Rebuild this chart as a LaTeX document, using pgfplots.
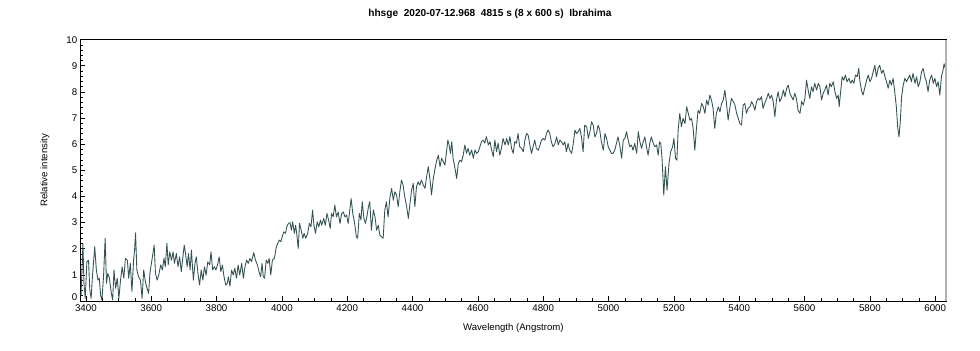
\documentclass[border=0pt]{standalone}
\usepackage{fontspec}
\setmainfont{Liberation Sans}
\usepackage{pgfplots}
\usepackage{pgfplotstable}
\pgfplotsset{compat=1.18}
\definecolor{spec}{RGB}{52,82,82}
\pgfplotstableread{
lam v
3385 0.20
3391 2.20
3394 0.68
3398 0.10
3403 1.50
3408 1.56
3412 0.42
3416 0.10
3420 0.93
3427 2.08
3432 1.19
3437 0.80
3441 0.87
3445 0.23
3449 0.04
3454 0.93
3459 2.40
3463 0.68
3467 1.06
3472 0.87
3478 0.29
3482 0.04
3486 1.19
3491 0.49
3496 0.87
3501 0.10
3506 0.80
3511 1.31
3516 0.87
3521 1.63
3527 1.56
3531 0.87
3536 1.44
3541 0.36
3546 1.56
3549 1.95
3552 2.61
3556 1.19
3561 0.93
3567 0.80
3572 0.10
3577 1.19
3582 0.74
3587 0.49
3592 0.29
3596 1.06
3602 1.56
3606 1.88
3609 2.14
3613 1.06
3618 0.80
3623 0.99
3629 1.38
3634 1.19
3639 1.63
3643 1.31
3648 2.21
3652 1.38
3657 1.88
3662 1.56
3667 1.88
3671 1.44
3677 1.82
3682 1.31
3687 1.69
3692 1.12
3697 1.69
3701 2.14
3705 1.82
3710 1.31
3714 1.82
3719 1.19
3723 1.95
3729 0.80
3734 1.44
3738 1.69
3743 1.06
3748 0.61
3753 1.19
3758 0.80
3763 1.31
3768 0.99
3773 1.50
3779 1.38
3783 1.88
3788 1.19
3793 1.31
3798 1.19
3803 1.38
3808 1.69
3813 1.12
3818 1.38
3822 0.99
3828 0.61
3833 0.68
3836 0.93
3841 0.57
3846 1.18
3851 1.00
3856 1.25
3861 0.87
3866 1.38
3871 1.00
3877 1.44
3882 0.87
3887 1.31
3892 1.57
3897 1.44
3902 1.63
3907 1.51
3914 1.85
3919 1.57
3925 1.38
3930 1.12
3935 0.93
3939 1.44
3943 0.93
3947 0.87
3952 1.57
3957 1.44
3961 1.63
3966 1.00
3971 1.57
3977 1.63
3982 2.01
3987 2.20
3992 2.33
3997 2.27
4001 2.46
4006 2.65
4011 2.59
4015 2.84
4020 2.97
4025 3.00
4029 2.71
4033 3.03
4038 2.59
4042 2.90
4046 2.52
4050 2.01
4054 2.97
4059 2.71
4064 2.40
4068 2.59
4073 2.40
4079 2.59
4084 2.97
4089 2.84
4094 3.48
4098 2.90
4103 2.59
4108 3.03
4113 2.84
4118 3.10
4122 2.90
4128 3.16
4133 2.90
4138 3.35
4143 3.10
4148 2.78
4152 3.35
4157 3.22
4162 3.67
4167 3.22
4172 3.41
4178 2.97
4183 3.35
4188 3.41
4193 3.22
4198 3.29
4203 2.97
4208 3.48
4212 3.92
4217 3.35
4222 3.03
4228 2.46
4232 2.40
4237 3.35
4242 3.10
4246 3.80
4251 3.16
4256 2.97
4261 3.29
4265 3.61
4269 3.80
4274 2.71
4280 3.48
4285 3.22
4290 2.71
4295 2.90
4300 2.52
4305 2.46
4310 2.40
4315 3.48
4320 3.80
4325 3.22
4331 3.99
4336 4.31
4341 3.86
4346 4.18
4351 4.06
4356 3.61
4361 4.18
4366 4.63
4371 4.43
4376 3.99
4382 3.61
4387 3.16
4392 3.73
4397 4.24
4402 4.50
4407 3.61
4412 4.37
4417 4.56
4422 4.43
4427 4.63
4433 4.43
4438 4.31
4443 4.75
4448 5.14
4453 4.69
4458 4.06
4463 4.63
4468 5.01
4473 5.33
4479 5.58
4484 5.14
4489 5.46
4494 5.33
4499 5.20
4504 5.71
4508 6.16
4512 5.97
4516 5.65
4520 6.10
4524 5.46
4530 5.07
4535 4.69
4540 5.26
4545 5.39
4550 5.33
4555 5.58
4560 5.97
4565 5.65
4570 5.84
4575 5.58
4581 5.78
4586 5.46
4591 5.78
4596 5.65
4601 5.71
4606 5.90
4611 6.10
4616 6.16
4621 6.04
4626 6.29
4632 5.97
4637 6.10
4642 5.78
4647 5.52
4652 6.16
4657 5.71
4662 6.04
4667 5.58
4672 5.84
4677 6.22
4683 5.97
4688 6.22
4693 5.97
4698 6.29
4703 5.84
4708 5.65
4713 6.10
4718 6.04
4723 6.41
4728 5.90
4734 5.84
4739 5.71
4744 6.16
4749 6.41
4754 6.34
4759 5.97
4764 5.65
4769 5.90
4774 6.16
4779 5.84
4785 5.77
4790 5.97
4795 6.16
4800 6.22
4805 6.16
4810 6.41
4815 6.54
4820 6.41
4825 6.09
4830 5.90
4836 6.03
4841 6.28
4846 5.97
4851 6.16
4856 6.09
4861 5.97
4866 6.09
4871 5.71
4876 6.03
4881 5.77
4887 5.65
4892 6.03
4897 6.54
4902 6.41
4907 6.48
4912 6.60
4917 6.28
4922 5.71
4927 6.73
4933 6.67
4938 6.22
4943 6.48
4948 6.86
4953 6.73
4958 6.28
4963 6.41
4968 6.73
4973 6.54
4978 6.09
4984 5.77
4989 6.41
4994 6.22
4999 5.90
5004 5.77
5009 5.65
5014 5.65
5019 5.77
5024 6.03
5029 6.28
5035 5.90
5040 5.46
5045 6.16
5050 6.22
5055 6.48
5060 6.16
5065 5.90
5070 5.97
5075 5.77
5080 6.03
5086 5.65
5091 6.48
5096 6.09
5101 5.84
5106 6.09
5111 6.28
5116 5.90
5121 5.58
5126 6.03
5131 6.28
5137 6.03
5142 5.90
5147 5.97
5152 5.58
5156 6.09
5160 6.03
5164 5.39
5169 4.05
5174 5.14
5179 4.24
5185 5.26
5190 5.71
5196 5.90
5200 6.22
5205 5.46
5209 5.39
5213 6.54
5218 7.18
5223 6.67
5228 6.99
5234 6.79
5239 7.43
5244 7.18
5249 6.92
5254 6.99
5259 6.60
5264 5.77
5269 6.60
5274 7.30
5279 7.18
5285 7.56
5290 7.43
5295 7.18
5300 7.69
5305 7.50
5310 7.88
5315 7.69
5320 7.37
5325 6.60
5330 7.18
5336 7.43
5341 7.24
5346 7.56
5351 7.69
5356 8.07
5361 7.56
5366 6.92
5371 7.37
5376 7.75
5382 7.63
5387 7.50
5392 7.18
5397 6.99
5402 6.79
5407 6.73
5412 7.50
5417 7.56
5422 7.18
5427 7.37
5433 7.43
5438 7.63
5443 7.50
5448 7.30
5453 7.63
5458 7.75
5463 7.69
5468 7.82
5473 7.37
5478 7.56
5484 7.75
5489 7.95
5494 7.75
5499 7.88
5504 7.63
5509 7.05
5514 7.69
5519 8.01
5524 7.63
5529 7.75
5535 8.07
5540 7.82
5545 8.14
5550 8.26
5555 7.95
5560 7.82
5565 7.69
5570 7.95
5575 7.75
5580 7.30
5586 7.18
5591 7.63
5596 7.50
5601 7.75
5606 8.45
5611 8.07
5616 7.75
5621 8.20
5626 8.01
5631 8.33
5637 8.07
5642 8.33
5647 8.20
5652 7.69
5657 7.95
5662 8.07
5667 8.26
5672 7.88
5677 8.33
5682 8.20
5688 8.39
5693 8.01
5698 7.75
5703 7.88
5706 7.43
5710 7.95
5715 8.58
5720 8.45
5725 8.65
5730 8.39
5736 8.52
5741 8.33
5746 8.45
5751 8.33
5756 8.65
5761 8.58
5766 8.90
5769 8.45
5774 8.07
5779 7.88
5785 8.20
5790 8.45
5795 8.65
5800 8.39
5805 8.52
5810 8.77
5815 9.02
5820 8.58
5825 8.90
5830 9.02
5836 8.71
5841 8.84
5846 8.58
5851 8.39
5856 8.14
5861 8.45
5866 8.26
5871 8.52
5876 8.01
5881 7.43
5885 6.66
5889 6.28
5893 6.85
5897 7.82
5902 8.26
5907 8.52
5912 8.39
5917 8.52
5922 8.65
5927 8.39
5932 8.71
5938 8.33
5943 8.58
5948 8.20
5953 8.39
5958 8.77
5963 8.90
5968 8.58
5973 8.39
5978 8.01
5983 8.45
5989 8.65
5994 8.33
5999 8.52
6004 8.20
6009 8.39
6014 7.88
6019 8.58
6024 8.84
6027 9.08
6031 8.90
}\spectrum
\begin{document}
\begin{tikzpicture}[x=1pt,y=1pt]
\useasboundingbox (0,0) rectangle (735,262.5);
\begin{axis}[
  at={(60.5pt,36.75pt)}, anchor=south west,
  scale only axis, width=649pt, height=196pt,
  xmin=3384, xmax=6033, ymin=0, ymax=10,
  xtick={3400,3600,...,6000}, ytick={0,1,...,10},
  yticklabels={\raisebox{6pt}{0},1,2,3,4,5,6,7,8,9,10},
  minor x tick num=3, minor y tick num=4,
  tick align=inside, xtick pos=bottom, ytick pos=left,
  major tick length=3.5pt, minor tick length=2pt,
  /pgf/number format/1000 sep={},
  /pgf/number format/assume math mode=true,
  tick label style={font=\fontsize{7.3}{8}\selectfont},
  xticklabel style={yshift=0.5pt},
  yticklabel style={xshift=1pt},
  axis line style={line width=0.75pt},
  tick style={black, line width=0.5pt},
  label style={font=\fontsize{7.2}{8}\selectfont},
  xlabel={Wavelength (Angstrom)},
  ylabel={Relative intensity},
  xlabel style={at={(axis description cs:0.5,-0.103)}, anchor=center},
  ylabel style={at={(axis description cs:-0.0413,0.5)}, anchor=center, rotate=0},
  title={hhsge\ \ 2020-07-12.968\ \ 4815 s (8 x 600 s)\ \ Ibrahima},
  title style={at={(axis description cs:0.473,1.067)}, anchor=center, font=\fontsize{7.6}{9}\selectfont\bfseries},
  clip=true,
  after end axis/.code={\draw[gray!60, line width=1pt] (rel axis cs:1,0) -- (rel axis cs:1,1);},
]
\addplot[spec, line width=0.65pt, line join=round] table[x=lam, y=v] {\spectrum};
\end{axis}
\end{tikzpicture}
\end{document}
